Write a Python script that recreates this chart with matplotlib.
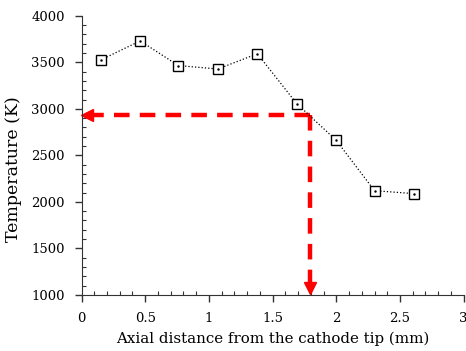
import matplotlib
matplotlib.use("Agg")
import matplotlib.pyplot as plt
from matplotlib.ticker import MultipleLocator

plt.rcParams['font.family'] = ['DejaVu Serif']

# data
distance = [0.15, 0.46, 0.76, 1.07, 1.38, 1.69, 2.0, 2.3, 2.61]
temperature = [3525, 3730, 3465, 3428, 3592, 3055, 2660, 2120, 2088]

# red guide: point of interest
guide_x = 1.79
guide_y = 2933

fig = plt.figure(figsize=(4.66, 3.51), dpi=100)
ax = fig.add_axes([0.175, 0.16, 0.82, 0.795])

ax.plot(distance, temperature, color='black', linestyle=':', linewidth=0.9,
        marker='s', markersize=7, markerfacecolor='white',
        markeredgecolor='black', markeredgewidth=1.0, zorder=3)
ax.plot(distance, temperature, linestyle='none', marker='.', markersize=1.5,
        color='black', zorder=4)

# red dashed arrows
ax.plot([guide_x, 0.05], [guide_y, guide_y], color='red', linewidth=3.2,
        dashes=(3.5, 2.3), zorder=2)
ax.plot([guide_x, guide_x], [guide_y, 1080], color='red', linewidth=3.2,
        dashes=(3.5, 2.3), zorder=2)
ax.plot([0.045], [guide_y], marker='<', markersize=9, color='red',
        linestyle='none', zorder=2, clip_on=False)
ax.plot([guide_x], [1075], marker='v', markersize=9, color='red',
        linestyle='none', zorder=2, clip_on=False)

ax.set_xlim(0, 3)
ax.set_ylim(1000, 4000)
ax.xaxis.set_major_locator(MultipleLocator(0.5))
ax.xaxis.set_minor_locator(MultipleLocator(0.1))
ax.yaxis.set_major_locator(MultipleLocator(500))
ax.yaxis.set_minor_locator(MultipleLocator(100))
ax.set_xticks([0, 0.5, 1, 1.5, 2, 2.5, 3])
ax.set_xticklabels(['0', '0.5', '1', '1.5', '2', '2.5', '3'])

for s in ['top', 'right']:
    ax.spines[s].set_visible(False)
for s in ['left', 'bottom']:
    ax.spines[s].set_color('#333333')

ax.tick_params(which='major', direction='out', length=5, width=1,
               color='#333333', labelsize=9.5, pad=7)
ax.tick_params(which='minor', direction='in', length=3, width=0.8,
               color='#333333')

ax.set_xlabel('Axial distance from the cathode tip (mm)', fontsize=10.8,
              labelpad=5)
ax.set_ylabel('Temperature (K)', fontsize=12.5)
ax.yaxis.set_label_coords(-0.155, 0.45)

fig.savefig('out.png', dpi=100)
